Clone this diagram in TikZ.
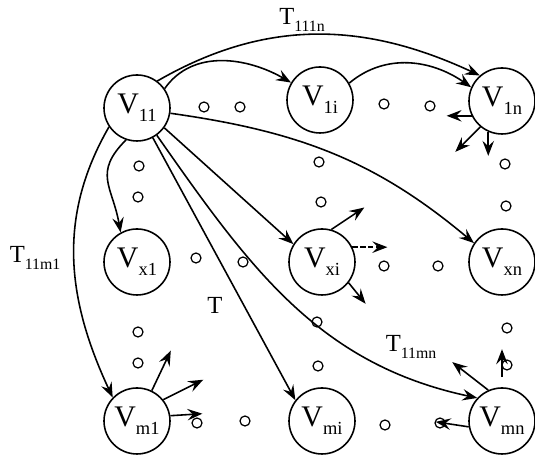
\documentclass[tikz,border=0pt]{standalone}
\usepackage{fontspec}
\setmainfont{Liberation Serif}
\usetikzlibrary{arrows.meta}

\newcommand{\vlab}[1]{V\raisebox{-0.55ex}{\fontsize{10.5}{12}\selectfont #1}}
\newcommand{\tlab}[1]{T\raisebox{-0.6ex}{\fontsize{9}{11}\selectfont #1}}

\tikzset{
  vert/.style={circle,draw,line width=0.9pt,minimum size=1.32cm,inner sep=0pt,
               font=\fontsize{17}{20}\selectfont},
  gap/.style={circle,draw,line width=0.7pt,minimum size=0.2cm,inner sep=0pt},
  arr/.style={line width=0.9pt,-{Stealth[length=3mm,width=2.3mm,inset=1.1mm]}},
  tl/.style={font=\fontsize{14}{16}\selectfont},
}

\begin{document}
\begin{tikzpicture}
\useasboundingbox (0,0) rectangle (10.7,9.22);
% grid of states
\node[vert] (v11) at (2.74,7.06) {\vlab{11}};
\node[vert] (v1i) at (6.40,7.22) {\vlab{1i}};
\node[vert] (v1n) at (10.04,7.20) {\vlab{1n}};
\node[vert] (vx1) at (2.74,3.98) {\vlab{x1}};
\node[vert] (vxi) at (6.44,3.98) {\vlab{xi}};
\node[vert] (vxn) at (10.04,3.98) {\vlab{xn}};
\node[vert] (vm1) at (2.74,0.80) {\vlab{m1}};
\node[vert] (vmi) at (6.44,0.80) {\vlab{mi}};
\node[vert] (vmn) at (10.04,0.80) {\vlab{mn}};
% small circles for the left-out states
\foreach \x/\y [count=\k] in {4.08/7.08, 4.80/7.08, 7.68/7.14, 8.60/7.10,
    2.78/5.90, 2.76/5.28, 6.38/5.98, 6.42/5.18, 10.10/5.94, 10.12/5.10,
    3.92/4.06, 4.86/3.98, 7.68/3.90, 8.76/3.90,
    2.76/2.58, 2.76/1.96, 6.34/2.78, 6.36/1.90, 10.14/2.66, 10.14/1.92,
    3.94/0.76, 4.90/0.80, 7.70/0.72, 8.80/0.76}
  \node[gap] (o\k) at (\x,\y) {};
% transitions out of V11
\draw[arr] (v11.35) to[out=55,in=150] (v1i.149);
\draw[arr] (v1i.30) to[out=40,in=145] (v1n.156);
\draw[arr] (v11.53) to[out=30,in=155] (v1n.131);
\draw[arr] (v11.-9) to[out=-8,in=140] (vxn.146);
\draw[arr] (v11.-109) to[out=225,in=100,looseness=1.3] (vx1.119);
\draw[arr] (v11.214) to[out=240,in=115] (vm1.136);
\draw[arr] (v11.-36) -- (vxi.148);
\draw[arr] (v11.-62) -- (vmi.142);
\draw[arr] (v11.-54) to[out=-55,in=168] (vmn.137);
\node[tl] (t111n) at (6.04,8.82) {\tlab{111n}};
\node[tl] (t11m1) at (0.70,4.06) {\tlab{11m1}};
\node[tl] (t) at (4.30,3.12) {T};
\node[tl] (t11mn) at (8.22,2.28) {\tlab{11mn}};
% stubs
\draw[arr] (v1n.206) -- ++(-0.5,0);
\draw[arr] (v1n.230) -- ++(-0.5,-0.5);
\draw[arr] (v1n.246) -- ++(0,-0.48);
\draw[arr] (vxi.74) -- ++(0.66,0.44);
\draw[arr,dash pattern=on 3pt off 1.5pt] (vxi.26) -- ++(0.7,0);
\draw[arr] (vxi.-38) -- ++(0.34,-0.42);
\draw[arr] (vm1.64) -- ++(0.38,0.8);
\draw[arr] (vm1.39) -- ++(0.8,0.4);
\draw[arr] (vm1.9) -- ++(0.64,0.04);
\draw[arr] (vmn.114) -- ++(-0.72,0.56);
\draw[arr] (vmn.north) ++(0,0.2) -- ++(0,0.56);
\draw[arr] (vmn.190) -- ++(-0.66,0.1);
\end{tikzpicture}
\end{document}
